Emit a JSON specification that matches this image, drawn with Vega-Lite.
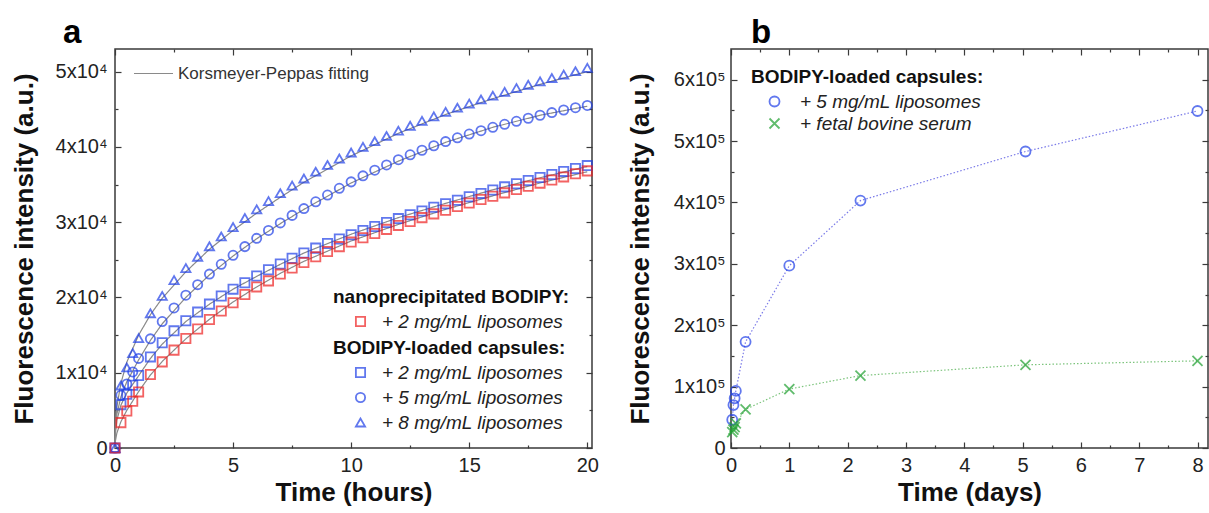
{
  "$schema": "https://vega.github.io/schema/vega-lite/v6.json",
  "background": "white",
  "padding": {"left": 10, "top": 16, "right": 0, "bottom": 0},
  "spacing": 26,
  "resolve": {"scale": {"color": "independent", "shape": "independent", "strokeDash": "independent"}, "legend": {"color": "independent", "shape": "independent", "strokeDash": "independent"}},
  "config": {
    "font": "Liberation Sans",
    "view": {"stroke": "#3a3a3a", "strokeWidth": 1.5},
    "axis": {"grid": false, "domain": false, "labelFlush": false, "labelFontSize": 20, "labelColor": "#222", "titleFontSize": 26, "titleFontWeight": "bold", "titleColor": "#111", "tickColor": "#3a3a3a", "tickWidth": 1.2},
    "legend": {"titleFontSize": 19, "titleFontWeight": "bold", "titleColor": "#111", "labelFontSize": 19, "labelFontStyle": "italic", "labelColor": "#222", "labelLimit": 400, "titleLimit": 400, "rowPadding": 5, "titlePadding": 5, "labelOffset": 12, "symbolOffset": 18, "symbolStrokeWidth": 1.8, "padding": 0}
  },
  "datasets": {
    "aRed": [
      {"n":"+ 2 mg/mL liposomes","t":0,"v":0},{"n":"+ 2 mg/mL liposomes","t":0.25,"v":3370},{"n":"+ 2 mg/mL liposomes","t":0.5,"v":4900},{"n":"+ 2 mg/mL liposomes","t":0.75,"v":6200},{"n":"+ 2 mg/mL liposomes","t":1,"v":7450},{"n":"+ 2 mg/mL liposomes","t":1.5,"v":9760},{"n":"+ 2 mg/mL liposomes","t":2,"v":11440},{"n":"+ 2 mg/mL liposomes","t":2.5,"v":13000},{"n":"+ 2 mg/mL liposomes","t":3,"v":14550},{"n":"+ 2 mg/mL liposomes","t":3.5,"v":15800},{"n":"+ 2 mg/mL liposomes","t":4,"v":17070},{"n":"+ 2 mg/mL liposomes","t":4.5,"v":18200},{"n":"+ 2 mg/mL liposomes","t":5,"v":19300},{"n":"+ 2 mg/mL liposomes","t":5.5,"v":20400},{"n":"+ 2 mg/mL liposomes","t":6,"v":21400},{"n":"+ 2 mg/mL liposomes","t":6.5,"v":22200},{"n":"+ 2 mg/mL liposomes","t":7,"v":23100},{"n":"+ 2 mg/mL liposomes","t":7.5,"v":23900},{"n":"+ 2 mg/mL liposomes","t":8,"v":24650},{"n":"+ 2 mg/mL liposomes","t":8.5,"v":25400},{"n":"+ 2 mg/mL liposomes","t":9,"v":26100},{"n":"+ 2 mg/mL liposomes","t":9.5,"v":26750},{"n":"+ 2 mg/mL liposomes","t":10,"v":27350},{"n":"+ 2 mg/mL liposomes","t":10.5,"v":27930},{"n":"+ 2 mg/mL liposomes","t":11,"v":28500},{"n":"+ 2 mg/mL liposomes","t":11.5,"v":29040},{"n":"+ 2 mg/mL liposomes","t":12,"v":29570},{"n":"+ 2 mg/mL liposomes","t":12.5,"v":30090},{"n":"+ 2 mg/mL liposomes","t":13,"v":30600},{"n":"+ 2 mg/mL liposomes","t":13.5,"v":31100},{"n":"+ 2 mg/mL liposomes","t":14,"v":31590},{"n":"+ 2 mg/mL liposomes","t":14.5,"v":32070},{"n":"+ 2 mg/mL liposomes","t":15,"v":32540},{"n":"+ 2 mg/mL liposomes","t":15.5,"v":33000},{"n":"+ 2 mg/mL liposomes","t":16,"v":33450},{"n":"+ 2 mg/mL liposomes","t":16.5,"v":33890},{"n":"+ 2 mg/mL liposomes","t":17,"v":34330},{"n":"+ 2 mg/mL liposomes","t":17.5,"v":34760},{"n":"+ 2 mg/mL liposomes","t":18,"v":35180},{"n":"+ 2 mg/mL liposomes","t":18.5,"v":35600},{"n":"+ 2 mg/mL liposomes","t":19,"v":36010},{"n":"+ 2 mg/mL liposomes","t":19.5,"v":36420},{"n":"+ 2 mg/mL liposomes","t":20,"v":36810}
    ],
    "aCaps": [
      {"n":"+ 2 mg/mL liposomes","t":0,"v":0},{"n":"+ 2 mg/mL liposomes","t":0.25,"v":5760},{"n":"+ 2 mg/mL liposomes","t":0.5,"v":7140},{"n":"+ 2 mg/mL liposomes","t":0.75,"v":8340},{"n":"+ 2 mg/mL liposomes","t":1,"v":9620},{"n":"+ 2 mg/mL liposomes","t":1.5,"v":12100},{"n":"+ 2 mg/mL liposomes","t":2,"v":13970},{"n":"+ 2 mg/mL liposomes","t":2.5,"v":15560},{"n":"+ 2 mg/mL liposomes","t":3,"v":16900},{"n":"+ 2 mg/mL liposomes","t":3.5,"v":18050},{"n":"+ 2 mg/mL liposomes","t":4,"v":19110},{"n":"+ 2 mg/mL liposomes","t":4.5,"v":20180},{"n":"+ 2 mg/mL liposomes","t":5,"v":21100},{"n":"+ 2 mg/mL liposomes","t":5.5,"v":21950},{"n":"+ 2 mg/mL liposomes","t":6,"v":22840},{"n":"+ 2 mg/mL liposomes","t":6.5,"v":23680},{"n":"+ 2 mg/mL liposomes","t":7,"v":24450},{"n":"+ 2 mg/mL liposomes","t":7.5,"v":25200},{"n":"+ 2 mg/mL liposomes","t":8,"v":25900},{"n":"+ 2 mg/mL liposomes","t":8.5,"v":26550},{"n":"+ 2 mg/mL liposomes","t":9,"v":27170},{"n":"+ 2 mg/mL liposomes","t":9.5,"v":27760},{"n":"+ 2 mg/mL liposomes","t":10,"v":28330},{"n":"+ 2 mg/mL liposomes","t":10.5,"v":28880},{"n":"+ 2 mg/mL liposomes","t":11,"v":29420},{"n":"+ 2 mg/mL liposomes","t":11.5,"v":29950},{"n":"+ 2 mg/mL liposomes","t":12,"v":30470},{"n":"+ 2 mg/mL liposomes","t":12.5,"v":30980},{"n":"+ 2 mg/mL liposomes","t":13,"v":31480},{"n":"+ 2 mg/mL liposomes","t":13.5,"v":31970},{"n":"+ 2 mg/mL liposomes","t":14,"v":32440},{"n":"+ 2 mg/mL liposomes","t":14.5,"v":32910},{"n":"+ 2 mg/mL liposomes","t":15,"v":33370},{"n":"+ 2 mg/mL liposomes","t":15.5,"v":33820},{"n":"+ 2 mg/mL liposomes","t":16,"v":34260},{"n":"+ 2 mg/mL liposomes","t":16.5,"v":34690},{"n":"+ 2 mg/mL liposomes","t":17,"v":35110},{"n":"+ 2 mg/mL liposomes","t":17.5,"v":35530},{"n":"+ 2 mg/mL liposomes","t":18,"v":35940},{"n":"+ 2 mg/mL liposomes","t":18.5,"v":36340},{"n":"+ 2 mg/mL liposomes","t":19,"v":36740},{"n":"+ 2 mg/mL liposomes","t":19.5,"v":37130},{"n":"+ 2 mg/mL liposomes","t":20,"v":37510},
      {"n":"+ 5 mg/mL liposomes","t":0,"v":0},{"n":"+ 5 mg/mL liposomes","t":0.25,"v":7000},{"n":"+ 5 mg/mL liposomes","t":0.5,"v":8500},{"n":"+ 5 mg/mL liposomes","t":0.75,"v":10100},{"n":"+ 5 mg/mL liposomes","t":1,"v":11900},{"n":"+ 5 mg/mL liposomes","t":1.5,"v":14500},{"n":"+ 5 mg/mL liposomes","t":2,"v":16800},{"n":"+ 5 mg/mL liposomes","t":2.5,"v":18600},{"n":"+ 5 mg/mL liposomes","t":3,"v":20300},{"n":"+ 5 mg/mL liposomes","t":3.5,"v":21700},{"n":"+ 5 mg/mL liposomes","t":4,"v":23100},{"n":"+ 5 mg/mL liposomes","t":4.5,"v":24400},{"n":"+ 5 mg/mL liposomes","t":5,"v":25600},{"n":"+ 5 mg/mL liposomes","t":5.5,"v":26750},{"n":"+ 5 mg/mL liposomes","t":6,"v":27850},{"n":"+ 5 mg/mL liposomes","t":6.5,"v":28900},{"n":"+ 5 mg/mL liposomes","t":7,"v":29900},{"n":"+ 5 mg/mL liposomes","t":7.5,"v":30900},{"n":"+ 5 mg/mL liposomes","t":8,"v":31800},{"n":"+ 5 mg/mL liposomes","t":8.5,"v":32700},{"n":"+ 5 mg/mL liposomes","t":9,"v":33600},{"n":"+ 5 mg/mL liposomes","t":9.5,"v":34500},{"n":"+ 5 mg/mL liposomes","t":10,"v":35350},{"n":"+ 5 mg/mL liposomes","t":10.5,"v":36150},{"n":"+ 5 mg/mL liposomes","t":11,"v":36900},{"n":"+ 5 mg/mL liposomes","t":11.5,"v":37600},{"n":"+ 5 mg/mL liposomes","t":12,"v":38300},{"n":"+ 5 mg/mL liposomes","t":12.5,"v":38950},{"n":"+ 5 mg/mL liposomes","t":13,"v":39550},{"n":"+ 5 mg/mL liposomes","t":13.5,"v":40150},{"n":"+ 5 mg/mL liposomes","t":14,"v":40700},{"n":"+ 5 mg/mL liposomes","t":14.5,"v":41200},{"n":"+ 5 mg/mL liposomes","t":15,"v":41700},{"n":"+ 5 mg/mL liposomes","t":15.5,"v":42150},{"n":"+ 5 mg/mL liposomes","t":16,"v":42600},{"n":"+ 5 mg/mL liposomes","t":16.5,"v":43000},{"n":"+ 5 mg/mL liposomes","t":17,"v":43400},{"n":"+ 5 mg/mL liposomes","t":17.5,"v":43800},{"n":"+ 5 mg/mL liposomes","t":18,"v":44200},{"n":"+ 5 mg/mL liposomes","t":18.5,"v":44550},{"n":"+ 5 mg/mL liposomes","t":19,"v":44900},{"n":"+ 5 mg/mL liposomes","t":19.5,"v":45200},{"n":"+ 5 mg/mL liposomes","t":20,"v":45500},
      {"n":"+ 8 mg/mL liposomes","t":0,"v":0},{"n":"+ 8 mg/mL liposomes","t":0.25,"v":8300},{"n":"+ 8 mg/mL liposomes","t":0.5,"v":10700},{"n":"+ 8 mg/mL liposomes","t":0.75,"v":12600},{"n":"+ 8 mg/mL liposomes","t":1,"v":14600},{"n":"+ 8 mg/mL liposomes","t":1.5,"v":17900},{"n":"+ 8 mg/mL liposomes","t":2,"v":20200},{"n":"+ 8 mg/mL liposomes","t":2.5,"v":22300},{"n":"+ 8 mg/mL liposomes","t":3,"v":23900},{"n":"+ 8 mg/mL liposomes","t":3.5,"v":25400},{"n":"+ 8 mg/mL liposomes","t":4,"v":26800},{"n":"+ 8 mg/mL liposomes","t":4.5,"v":28100},{"n":"+ 8 mg/mL liposomes","t":5,"v":29350},{"n":"+ 8 mg/mL liposomes","t":5.5,"v":30550},{"n":"+ 8 mg/mL liposomes","t":6,"v":31700},{"n":"+ 8 mg/mL liposomes","t":6.5,"v":32800},{"n":"+ 8 mg/mL liposomes","t":7,"v":33850},{"n":"+ 8 mg/mL liposomes","t":7.5,"v":34850},{"n":"+ 8 mg/mL liposomes","t":8,"v":35800},{"n":"+ 8 mg/mL liposomes","t":8.5,"v":36700},{"n":"+ 8 mg/mL liposomes","t":9,"v":37600},{"n":"+ 8 mg/mL liposomes","t":9.5,"v":38450},{"n":"+ 8 mg/mL liposomes","t":10,"v":39250},{"n":"+ 8 mg/mL liposomes","t":10.5,"v":40000},{"n":"+ 8 mg/mL liposomes","t":11,"v":40750},{"n":"+ 8 mg/mL liposomes","t":11.5,"v":41450},{"n":"+ 8 mg/mL liposomes","t":12,"v":42150},{"n":"+ 8 mg/mL liposomes","t":12.5,"v":42800},{"n":"+ 8 mg/mL liposomes","t":13,"v":43450},{"n":"+ 8 mg/mL liposomes","t":13.5,"v":44050},{"n":"+ 8 mg/mL liposomes","t":14,"v":44650},{"n":"+ 8 mg/mL liposomes","t":14.5,"v":45200},{"n":"+ 8 mg/mL liposomes","t":15,"v":45750},{"n":"+ 8 mg/mL liposomes","t":15.5,"v":46300},{"n":"+ 8 mg/mL liposomes","t":16,"v":46800},{"n":"+ 8 mg/mL liposomes","t":16.5,"v":47300},{"n":"+ 8 mg/mL liposomes","t":17,"v":47800},{"n":"+ 8 mg/mL liposomes","t":17.5,"v":48250},{"n":"+ 8 mg/mL liposomes","t":18,"v":48700},{"n":"+ 8 mg/mL liposomes","t":18.5,"v":49150},{"n":"+ 8 mg/mL liposomes","t":19,"v":49600},{"n":"+ 8 mg/mL liposomes","t":19.5,"v":50050},{"n":"+ 8 mg/mL liposomes","t":20,"v":50500}
    ],
    "aFit": [
      {"s":"red","t":0,"v":0},{"s":"red","t":0.02,"v":1000},{"s":"red","t":0.08,"v":2000},{"s":"red","t":0.25,"v":3500},{"s":"red","t":0.5,"v":5000},{"s":"red","t":1,"v":7500},{"s":"red","t":1.5,"v":9700},{"s":"red","t":2,"v":11500},{"s":"red","t":3,"v":14500},{"s":"red","t":4,"v":17100},{"s":"red","t":5,"v":19400},{"s":"red","t":6,"v":21400},{"s":"red","t":7,"v":23200},{"s":"red","t":8,"v":24800},{"s":"red","t":10,"v":27500},{"s":"red","t":12,"v":29700},{"s":"red","t":14,"v":31700},{"s":"red","t":16,"v":33500},{"s":"red","t":18,"v":35200},{"s":"red","t":20,"v":36700},
      {"s":"sq","t":0,"v":0},{"s":"sq","t":0.02,"v":2000},{"s":"sq","t":0.08,"v":3700},{"s":"sq","t":0.25,"v":5700},{"s":"sq","t":0.5,"v":7300},{"s":"sq","t":1,"v":9600},{"s":"sq","t":1.5,"v":11900},{"s":"sq","t":2,"v":13800},{"s":"sq","t":3,"v":16800},{"s":"sq","t":4,"v":19100},{"s":"sq","t":5,"v":21100},{"s":"sq","t":6,"v":22800},{"s":"sq","t":7,"v":24400},{"s":"sq","t":8,"v":25900},{"s":"sq","t":10,"v":28400},{"s":"sq","t":12,"v":30600},{"s":"sq","t":14,"v":32500},{"s":"sq","t":16,"v":34300},{"s":"sq","t":18,"v":35900},{"s":"sq","t":20,"v":37400},
      {"s":"ci","t":0,"v":0},{"s":"ci","t":0.02,"v":2500},{"s":"ci","t":0.08,"v":4500},{"s":"ci","t":0.25,"v":6800},{"s":"ci","t":0.5,"v":8800},{"s":"ci","t":1,"v":11700},{"s":"ci","t":1.5,"v":14300},{"s":"ci","t":2,"v":16500},{"s":"ci","t":3,"v":20000},{"s":"ci","t":4,"v":23000},{"s":"ci","t":5,"v":25500},{"s":"ci","t":6,"v":27800},{"s":"ci","t":7,"v":29800},{"s":"ci","t":8,"v":31700},{"s":"ci","t":10,"v":35200},{"s":"ci","t":12,"v":38100},{"s":"ci","t":14,"v":40600},{"s":"ci","t":16,"v":42600},{"s":"ci","t":18,"v":44200},{"s":"ci","t":20,"v":45400},
      {"s":"tr","t":0,"v":0},{"s":"tr","t":0.02,"v":3100},{"s":"tr","t":0.08,"v":5500},{"s":"tr","t":0.25,"v":8600},{"s":"tr","t":0.5,"v":11400},{"s":"tr","t":1,"v":15000},{"s":"tr","t":1.5,"v":17700},{"s":"tr","t":2,"v":19900},{"s":"tr","t":3,"v":23400},{"s":"tr","t":4,"v":26400},{"s":"tr","t":5,"v":28900},{"s":"tr","t":6,"v":31200},{"s":"tr","t":7,"v":33300},{"s":"tr","t":8,"v":35300},{"s":"tr","t":10,"v":38800},{"s":"tr","t":12,"v":41800},{"s":"tr","t":14,"v":44300},{"s":"tr","t":16,"v":46400},{"s":"tr","t":18,"v":48300},{"s":"tr","t":20,"v":50000}
    ],
    "b": [
      {"n":"+ 5 mg/mL liposomes","t":0.021,"v":46000},{"n":"+ 5 mg/mL liposomes","t":0.042,"v":70000},{"n":"+ 5 mg/mL liposomes","t":0.0625,"v":81000},{"n":"+ 5 mg/mL liposomes","t":0.083,"v":93000},{"n":"+ 5 mg/mL liposomes","t":0.25,"v":173000},{"n":"+ 5 mg/mL liposomes","t":1,"v":297000},{"n":"+ 5 mg/mL liposomes","t":2.22,"v":403000},{"n":"+ 5 mg/mL liposomes","t":5.05,"v":483000},{"n":"+ 5 mg/mL liposomes","t":8,"v":549000},
      {"n":"+ fetal bovine serum","t":0.021,"v":26000},{"n":"+ fetal bovine serum","t":0.042,"v":30000},{"n":"+ fetal bovine serum","t":0.0625,"v":34000},{"n":"+ fetal bovine serum","t":0.083,"v":40000},{"n":"+ fetal bovine serum","t":0.25,"v":63000},{"n":"+ fetal bovine serum","t":1,"v":96000},{"n":"+ fetal bovine serum","t":2.22,"v":118000},{"n":"+ fetal bovine serum","t":5.05,"v":135500},{"n":"+ fetal bovine serum","t":8,"v":142000}
    ]
  },
  "hconcat": [
    {
      "width": 477,
      "height": 399,
      "title": {"text": "a", "anchor": "start", "frame": "group", "dx": -52, "fontSize": 33, "fontWeight": "bold", "offset": -2, "color": "#000"},
      "resolve": {"axis": {"x": "independent", "y": "independent"}},
      "layer": [
        {
          "data": {"name": "aFit"},
          "mark": {"type": "line", "color": "#8a8a8a", "strokeWidth": 1.2},
          "encoding": {
            "x": {"field": "t", "type": "quantitative", "scale": {"domain": [0, 20.2], "nice": false}, "axis": {"orient": "bottom", "values": [0, 5, 10, 15, 20], "tickSize": -6, "labelPadding": 13, "title": "Time (hours)", "titlePadding": 4}},
            "y": {"field": "v", "type": "quantitative", "scale": {"domain": [0, 53000], "nice": false}, "axis": {"orient": "left", "values": [0, 10000, 20000, 30000, 40000, 50000], "tickSize": -6, "labelPadding": 14, "labelExpr": "datum.value == 0 ? '0' : format(datum.value / 10000, 'd') + 'x10⁴'", "title": "Fluorescence intensity (a.u.)", "titlePadding": 18}},
            "detail": {"field": "s"},
            "strokeDash": {"datum": "Korsmeyer-Peppas fitting", "scale": {"range": [[1, 0]]}, "legend": {"title": null, "orient": "none", "legendX": 18, "legendY": 4, "symbolType": "stroke", "symbolSize": 1521, "symbolStrokeColor": "#8a8a8a", "symbolStrokeWidth": 1.2, "symbolOffset": 0, "labelOffset": 4, "labelFontSize": 17, "labelFontStyle": "normal", "labelColor": "#333"}}
          }
        },
        {
          "data": {"name": "aCaps"},
          "mark": {"type": "point", "filled": false, "color": "#1f3fe8", "strokeWidth": 1.8, "size": 85},
          "encoding": {
            "x": {"field": "t", "type": "quantitative", "scale": {"domain": [0, 20.2], "nice": false}, "axis": null},
            "y": {"field": "v", "type": "quantitative", "scale": {"domain": [0, 53000], "nice": false}, "axis": null},
            "shape": {"field": "n", "type": "nominal", "scale": {"domain": ["+ 2 mg/mL liposomes", "+ 5 mg/mL liposomes", "+ 8 mg/mL liposomes"], "range": ["square", "circle", "triangle-up"]}, "legend": {"title": "BODIPY-loaded capsules:", "orient": "none", "legendX": 218, "legendY": 290, "symbolStrokeColor": "#1f3fe8", "symbolFillColor": "transparent", "symbolSize": 85}}
          }
        },
        {
          "data": {"name": "aRed"},
          "mark": {"type": "point", "filled": false, "shape": "square", "strokeWidth": 1.8, "size": 85},
          "encoding": {
            "x": {"field": "t", "type": "quantitative", "scale": {"domain": [0, 20.2], "nice": false}, "axis": null},
            "y": {"field": "v", "type": "quantitative", "scale": {"domain": [0, 53000], "nice": false}, "axis": null},
            "color": {"field": "n", "type": "nominal", "scale": {"domain": ["+ 2 mg/mL liposomes"], "range": ["#ee2020"]}, "legend": {"title": "nanoprecipitated BODIPY:", "orient": "none", "legendX": 218, "legendY": 239, "symbolType": "square", "symbolFillColor": "transparent", "symbolSize": 85}}
          }
        },
        {
          "data": {"name": "aFit"},
          "mark": {"type": "point", "opacity": 0},
          "encoding": {
            "x": {"field": "t", "type": "quantitative", "scale": {"domain": [0, 20.2], "nice": false}, "axis": {"orient": "bottom", "values": [2.5, 7.5, 12.5, 17.5], "tickSize": -3, "labels": false, "title": null}},
            "y": {"field": "v", "type": "quantitative", "scale": {"domain": [0, 53000], "nice": false}, "axis": {"orient": "left", "values": [5000, 15000, 25000, 35000, 45000], "tickSize": -3, "labels": false, "title": null}}
          }
        },
        {
          "data": {"name": "aFit"},
          "mark": {"type": "point", "opacity": 0},
          "encoding": {
            "x": {"field": "t", "type": "quantitative", "scale": {"domain": [0, 20.2], "nice": false}, "axis": {"orient": "top", "values": [0, 5, 10, 15, 20], "tickSize": -6, "labels": false, "title": null}},
            "y": {"field": "v", "type": "quantitative", "scale": {"domain": [0, 53000], "nice": false}, "axis": {"orient": "right", "values": [0, 10000, 20000, 30000, 40000, 50000], "tickSize": -6, "labels": false, "title": null}}
          }
        },
        {
          "data": {"name": "aFit"},
          "mark": {"type": "point", "opacity": 0},
          "encoding": {
            "x": {"field": "t", "type": "quantitative", "scale": {"domain": [0, 20.2], "nice": false}, "axis": {"orient": "top", "values": [2.5, 7.5, 12.5, 17.5], "tickSize": -3, "labels": false, "title": null}},
            "y": {"field": "v", "type": "quantitative", "scale": {"domain": [0, 53000], "nice": false}, "axis": {"orient": "right", "values": [5000, 15000, 25000, 35000, 45000], "tickSize": -3, "labels": false, "title": null}}
          }
        }
      ]
    },
    {
      "width": 477,
      "height": 399,
      "title": {"text": "b", "anchor": "start", "frame": "group", "dx": 20, "fontSize": 33, "fontWeight": "bold", "offset": -2, "color": "#000"},
      "resolve": {"axis": {"x": "independent", "y": "independent"}},
      "data": {"name": "b"},
      "layer": [
        {
          "transform": [{"filter": "datum.n == '+ 5 mg/mL liposomes'"}],
          "mark": {"type": "line", "strokeDash": [1.5, 2], "strokeWidth": 1.2, "color": "#7a7ae8"},
          "encoding": {
            "x": {"field": "t", "type": "quantitative", "scale": {"domain": [0, 8.18], "nice": false}, "axis": {"orient": "bottom", "values": [0, 1, 2, 3, 4, 5, 6, 7, 8], "tickSize": -6, "labelPadding": 13, "title": "Time (days)", "titlePadding": 4}},
            "y": {"field": "v", "type": "quantitative", "scale": {"domain": [0, 650000], "nice": false}, "axis": {"orient": "left", "values": [0, 100000, 200000, 300000, 400000, 500000, 600000], "tickSize": -6, "labelPadding": 12, "labelExpr": "datum.value == 0 ? '0' : format(datum.value / 100000, 'd') + 'x10⁵'", "title": "Fluorescence intensity (a.u.)", "titlePadding": 20}}
          }
        },
        {
          "transform": [{"filter": "datum.n == '+ fetal bovine serum'"}],
          "mark": {"type": "line", "strokeDash": [1.5, 2], "strokeWidth": 1.2, "color": "#7cc47c"},
          "encoding": {
            "x": {"field": "t", "type": "quantitative", "scale": {"domain": [0, 8.18], "nice": false}, "axis": null},
            "y": {"field": "v", "type": "quantitative", "scale": {"domain": [0, 650000], "nice": false}, "axis": null}
          }
        },
        {
          "mark": {"type": "point", "filled": false, "strokeWidth": 1.8, "size": 100},
          "encoding": {
            "x": {"field": "t", "type": "quantitative", "scale": {"domain": [0, 8.18], "nice": false}, "axis": null},
            "y": {"field": "v", "type": "quantitative", "scale": {"domain": [0, 650000], "nice": false}, "axis": null},
            "color": {"field": "n", "type": "nominal", "scale": {"domain": ["+ 5 mg/mL liposomes", "+ fetal bovine serum"], "range": ["#1f3fe8", "#1fa030"]}, "legend": {"title": "BODIPY-loaded capsules:", "orient": "none", "legendX": 20, "legendY": 19, "symbolFillColor": "transparent", "symbolSize": 100, "symbolOffset": 14, "rowPadding": 2, "labelOffset": 16}},
            "shape": {"field": "n", "type": "nominal", "scale": {"domain": ["+ 5 mg/mL liposomes", "+ fetal bovine serum"], "range": ["circle", "M-1,-1L1,1M-1,1L1,-1"]}, "legend": {"title": "BODIPY-loaded capsules:", "orient": "none", "legendX": 20, "legendY": 19, "symbolFillColor": "transparent", "symbolSize": 100, "symbolOffset": 14, "rowPadding": 2, "labelOffset": 16}}
          }
        },
        {
          "mark": {"type": "point", "opacity": 0},
          "encoding": {
            "x": {"field": "t", "type": "quantitative", "scale": {"domain": [0, 8.18], "nice": false}, "axis": {"orient": "bottom", "values": [0.5, 1.5, 2.5, 3.5, 4.5, 5.5, 6.5, 7.5], "tickSize": -3, "labels": false, "title": null}},
            "y": {"field": "v", "type": "quantitative", "scale": {"domain": [0, 650000], "nice": false}, "axis": {"orient": "left", "values": [50000, 150000, 250000, 350000, 450000, 550000], "tickSize": -3, "labels": false, "title": null}}
          }
        },
        {
          "mark": {"type": "point", "opacity": 0},
          "encoding": {
            "x": {"field": "t", "type": "quantitative", "scale": {"domain": [0, 8.18], "nice": false}, "axis": {"orient": "top", "values": [0, 1, 2, 3, 4, 5, 6, 7, 8], "tickSize": -6, "labels": false, "title": null}},
            "y": {"field": "v", "type": "quantitative", "scale": {"domain": [0, 650000], "nice": false}, "axis": {"orient": "right", "values": [0, 100000, 200000, 300000, 400000, 500000, 600000], "tickSize": -6, "labels": false, "title": null}}
          }
        },
        {
          "mark": {"type": "point", "opacity": 0},
          "encoding": {
            "x": {"field": "t", "type": "quantitative", "scale": {"domain": [0, 8.18], "nice": false}, "axis": {"orient": "top", "values": [0.5, 1.5, 2.5, 3.5, 4.5, 5.5, 6.5, 7.5], "tickSize": -3, "labels": false, "title": null}},
            "y": {"field": "v", "type": "quantitative", "scale": {"domain": [0, 650000], "nice": false}, "axis": {"orient": "right", "values": [50000, 150000, 250000, 350000, 450000, 550000], "tickSize": -3, "labels": false, "title": null}}
          }
        }
      ]
    }
  ]
}
